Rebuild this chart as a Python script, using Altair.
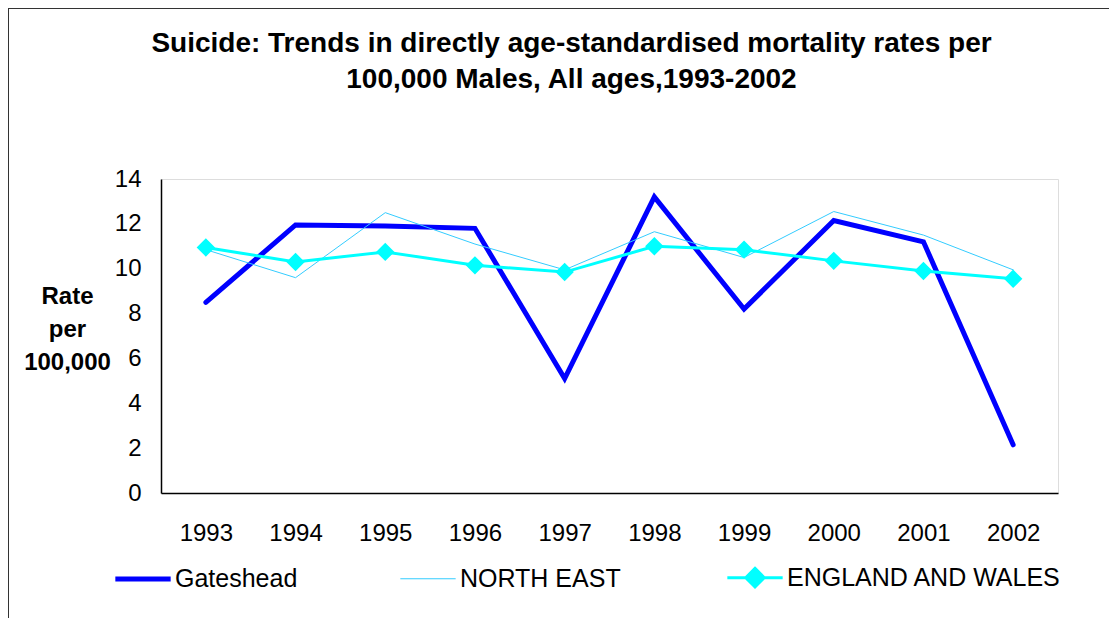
import altair as alt
import pandas as pd

years = [1993, 1994, 1995, 1996, 1997, 1998, 1999, 2000, 2001, 2002]
series_names = ["Gateshead", "NORTH EAST", "ENGLAND AND WALES"]
gateshead = [8.5, 11.95, 11.9, 11.8, 5.1, 13.2, 8.2, 12.15, 11.2, 2.15]
north_east = [10.85, 9.6, 12.5, 11.1, 9.95, 11.65, 10.5, 12.55, 11.5, 9.95]
eng_wales = [10.95, 10.3, 10.75, 10.15, 9.85, 11.0, 10.85, 10.35, 9.9, 9.55]
y_ticks = [0, 2, 4, 6, 8, 10, 12, 14]
title_lines = ["Suicide: Trends in directly age-standardised mortality rates per",
               "100,000 Males,  All ages,1993-2002"]

# scale domain ordered by line width (thin -> thick) so a point scale gives 1, 3, 5
scale_domain = ["NORTH EAST", "ENGLAND AND WALES", "Gateshead"]
scale_colors = ["#33CCFF", "#00FFFF", "#0000FF"]
LINE_PATH = "M-2.7,0L2.7,0"
DIAMOND_PATH = "M-2.7,0L2.7,0M0,-0.9L0.9,0L0,0.9L-0.9,0Z"
scale_shapes = [LINE_PATH, DIAMOND_PATH, LINE_PATH]

rows = []
for name, vals in zip(series_names, [gateshead, north_east, eng_wales]):
    for i, (yr, v) in enumerate(zip(years, vals)):
        rows.append({"Year": str(yr), "Series": name, "Rate": v, "order": i})
df = pd.DataFrame(rows)

FONT = "Liberation Sans"
year_sort = [str(y) for y in years]

x_enc = alt.X("Year:O", sort=year_sort,
              scale=alt.Scale(padding=0.5),
              axis=alt.Axis(title=None, labelAngle=0, labelFontSize=24, labelFont=FONT,
                            labelColor="#000", ticks=False, tickSize=0, labelPadding=28,
                            domainColor="#000", domainWidth=1.5, grid=False))
y_enc = alt.Y("Rate:Q", scale=alt.Scale(domain=[0, 14], nice=False),
              axis=alt.Axis(values=y_ticks, title=["Rate", "per", "100,000"], titleAngle=0,
                            titleAlign="center", titleBaseline="alphabetic",
                            titleX=-94, titleY=124, titleLineHeight=33,
                            titleFontSize=24, titleFont=FONT, titleFontWeight="bold",
                            titleColor="#000",
                            labelFontSize=24, labelFont=FONT, labelColor="#000",
                            ticks=False, tickSize=0, labelPadding=20,
                            domainColor="#000", domainWidth=1.5, grid=False))

legend = alt.Legend(
    title=None, orient="none", legendX=-31, legendY=386, direction="horizontal",
    columns=3, columnPadding=100, symbolSize=420, labelFontSize=25, labelFont=FONT,
    labelColor="#000", labelOffset=19, padding=0, labelLimit=400,
    symbolFillColor="#00FFFF", symbolOpacity=1, values=series_names,
)

lines = alt.Chart(df).mark_line(strokeCap="round").encode(
    x=x_enc, y=y_enc,
    color=alt.Color("Series:N", scale=alt.Scale(domain=scale_domain, range=scale_colors),
                    legend=legend),
    strokeWidth=alt.StrokeWidth("Series:N",
                                scale=alt.Scale(type="point", domain=scale_domain,
                                                range=[1, 5], padding=0),
                                legend=legend),
    order="order:Q",
)

points = alt.Chart(df).transform_filter(
    alt.datum.Series == "ENGLAND AND WALES"
).mark_point(filled=True, size=420, opacity=1).encode(
    x=alt.X("Year:O", sort=year_sort),
    y=alt.Y("Rate:Q"),
    color=alt.value("#00FFFF"),
    shape=alt.Shape("Series:N", scale=alt.Scale(domain=scale_domain, range=scale_shapes),
                    legend=legend),
)

frame = alt.Chart(pd.DataFrame({"f": [0]})).mark_rect(
    fill=None, fillOpacity=0, stroke="#333333", strokeWidth=2
).encode(
    x=alt.value(-153), x2=alt.value(1200), y=alt.value(-171), y2=alt.value(800)
)

title = alt.Chart(pd.DataFrame({"t": [0]})).mark_text(
    font=FONT, fontSize=28, fontWeight="bold", color="#000",
    align="center", baseline="alphabetic", lineHeight=36,
).encode(
    x=alt.value(410.5), y=alt.value(-127), text=alt.value(title_lines)
)

chart = alt.layer(frame, lines, points, title).properties(
    width=897, height=314,
    autosize=alt.AutoSizeParams(type="none"),
    padding={"left": 153, "top": 171, "right": 51, "bottom": 125},
).configure_view(stroke="#808080", strokeWidth=1.5).configure(background="white")

chart.save("out.html", embed_options={"renderer": "svg", "actions": False})
